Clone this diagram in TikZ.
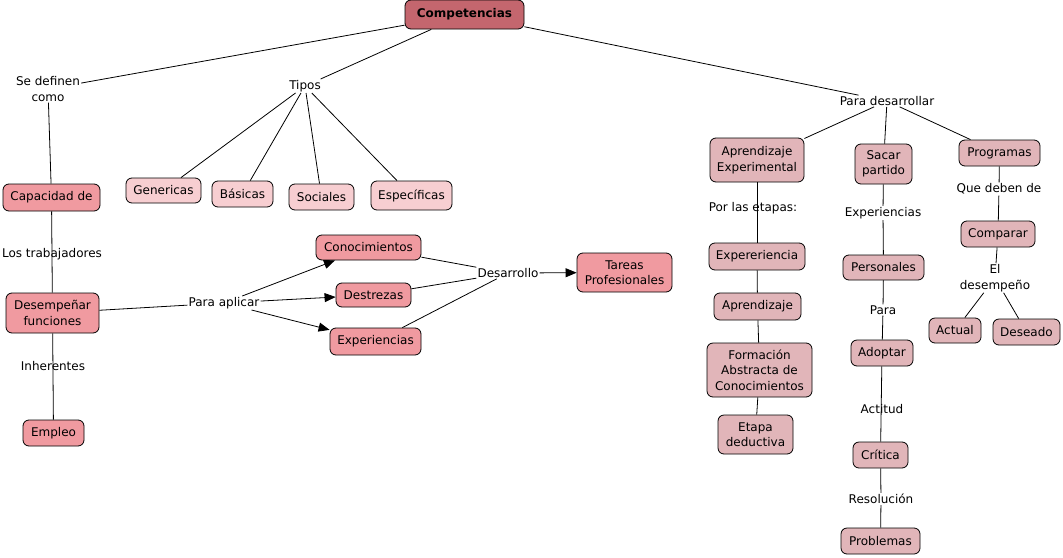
\documentclass[tikz,border=0pt]{standalone}
\usepackage{fontspec}
\setmainfont{DejaVu Sans}
\usetikzlibrary{arrows.meta}
\definecolor{compc}{RGB}{196,102,110}
\definecolor{cone}{RGB}{240,154,160}
\definecolor{ctwo}{RGB}{247,206,209}
\definecolor{cthree}{RGB}{225,181,185}
\tikzset{
  box/.style={draw=black, line width=0.8pt, rounded corners=6pt, inner sep=1pt, align=center,
    font=\fontsize{12}{15.5}\selectfont},
  lab/.style={inner sep=1pt, align=center, font=\fontsize{12}{15.5}\selectfont},
  conn/.style={draw=black, line width=0.8pt},
  arr/.style={conn, -{Triangle[length=11pt,width=9pt]}},
}
\begin{document}
\begin{tikzpicture}[x=1pt,y=-1pt]
\useasboundingbox[fill=white] (0,0) rectangle (1063,557);
% concepts
\node[box, fill=compc, minimum width=119, minimum height=29, font=\fontsize{12}{15.5}\selectfont\bfseries] (comp) at (464.5,14.5) {Competencias};
\node[box, fill=cone, minimum width=97, minimum height=27] (cap) at (51.5,197.5) {Capacidad de};
\node[box, fill=ctwo, minimum width=75, minimum height=25] (gen) at (163.5,190.5) {Genericas};
\node[box, fill=ctwo, minimum width=61, minimum height=26] (bas) at (242.5,194) {Básicas};
\node[box, fill=ctwo, minimum width=65, minimum height=26] (soc) at (321.5,197) {Sociales};
\node[box, fill=ctwo, minimum width=81, minimum height=29] (esp) at (411.5,195.5) {Específicas};
\node[box, fill=cone, minimum width=93, minimum height=40] (des) at (52.5,313) {Desempeñar\\funciones};
\node[box, fill=cone, minimum width=61, minimum height=26] (emp) at (53.5,433) {Empleo};
\node[box, fill=cone, minimum width=105, minimum height=25] (con) at (368.5,247.5) {Conocimientos};
\node[box, fill=cone, minimum width=75, minimum height=24] (dst) at (373.5,295) {Destrezas};
\node[box, fill=cone, minimum width=91, minimum height=27] (exp) at (375.5,341.5) {Experiencias};
\node[box, fill=cone, minimum width=95, minimum height=39] (tar) at (624.5,272.5) {Tareas\\Profesionales};
\node[box, fill=cthree, minimum width=94, minimum height=44] (ae) at (757,160) {Aprendizaje\\Experimental};
\node[box, fill=cthree, minimum width=96, minimum height=27] (eex) at (757,256.5) {Expereriencia};
\node[box, fill=cthree, minimum width=87, minimum height=27] (apr) at (757.5,306.5) {Aprendizaje};
\node[box, fill=cthree, minimum width=105, minimum height=54] (form) at (759.5,370) {Formación\\Abstracta de\\Conocimientos};
\node[box, fill=cthree, minimum width=75, minimum height=39] (etp) at (755.5,434.5) {Etapa\\deductiva};
\node[box, fill=cthree, minimum width=57, minimum height=40] (sac) at (883.5,164) {Sacar\\partido};
\node[box, fill=cthree, minimum width=81, minimum height=25] (per) at (883.5,267.5) {Personales};
\node[box, fill=cthree, minimum width=62, minimum height=26] (ado) at (882,353) {Adoptar};
\node[box, fill=cthree, minimum width=55, minimum height=26] (cri) at (880.5,455) {Crítica};
\node[box, fill=cthree, minimum width=79, minimum height=26] (pro) at (880.5,541) {Problemas};
\node[box, fill=cthree, minimum width=81, minimum height=26] (prg) at (999.5,153) {Programas};
\node[box, fill=cthree, minimum width=74, minimum height=26] (cmp) at (998,234) {Comparar};
\node[box, fill=cthree, minimum width=52, minimum height=25] (act) at (955,330.5) {Actual};
\node[box, fill=cthree, minimum width=67, minimum height=26] (dse) at (1026.5,332) {Deseado};
% linking phrases
\node[lab] (sdc) at (48,89) {Se definen\\como};
\node[lab] (tip) at (305,86) {Tipos};
\node[lab] (pdr) at (887,101) {Para desarrollar};
\node[lab] (lt) at (52,254) {Los trabajadores};
\node[lab] (inh) at (53,366) {Inherentes};
\node[lab] (pap) at (224,303) {Para aplicar};
\node[lab] (dsr) at (508,273) {Desarrollo};
\node[lab] (pe) at (753,208) {Por las etapas:};
\node[lab] (exl) at (883,213) {Experiencias};
\node[lab] (para) at (883,310) {Para};
\node[lab] (acti) at (882,409) {Actitud};
\node[lab] (res) at (881,499) {Resolución};
\node[lab] (qdd) at (999,189) {Que deben de};
\node[lab] (eld) at (995,278) {El\\desempeño};
% connectors
\draw[conn] (comp) -- (sdc);
\draw[conn] (comp) -- (tip);
\draw[conn] (comp) -- (pdr);
\draw[conn] (sdc) -- (cap);
\draw[conn] (tip) -- (gen);
\draw[conn] (tip) -- (bas);
\draw[conn] (tip) -- (soc);
\draw[conn] (tip) -- (esp);
\draw[conn] (cap) -- (des);
\draw[conn] (des) -- (emp);
\draw[conn] (des) -- (pap);
\draw[arr] (pap) -- (con);
\draw[arr] (pap) -- (dst);
\draw[arr] (pap) -- (exp);
\draw[conn] (con) -- (dsr);
\draw[conn] (dst) -- (dsr);
\draw[conn] (exp) -- (dsr);
\draw[arr] (dsr) -- (tar);
\draw[conn] (pdr) -- (ae);
\draw[conn] (pdr) -- (sac);
\draw[conn] (pdr) -- (prg);
\draw[conn] (ae) -- (eex);
\draw[conn] (eex) -- (apr);
\draw[conn] (apr) -- (form);
\draw[conn] (form) -- (etp);
\draw[conn] (sac) -- (exl);
\draw[conn] (exl) -- (per);
\draw[conn] (per) -- (para);
\draw[conn] (para) -- (ado);
\draw[conn] (ado) -- (cri);
\draw[conn] (cri) -- (res);
\draw[conn] (res) -- (pro);
\draw[conn] (prg) -- (qdd);
\draw[conn] (qdd) -- (cmp);
\draw[conn] (cmp) -- (eld);
\draw[conn] (eld) -- (act);
\draw[conn] (eld) -- (dse);
\end{tikzpicture}
\end{document}
